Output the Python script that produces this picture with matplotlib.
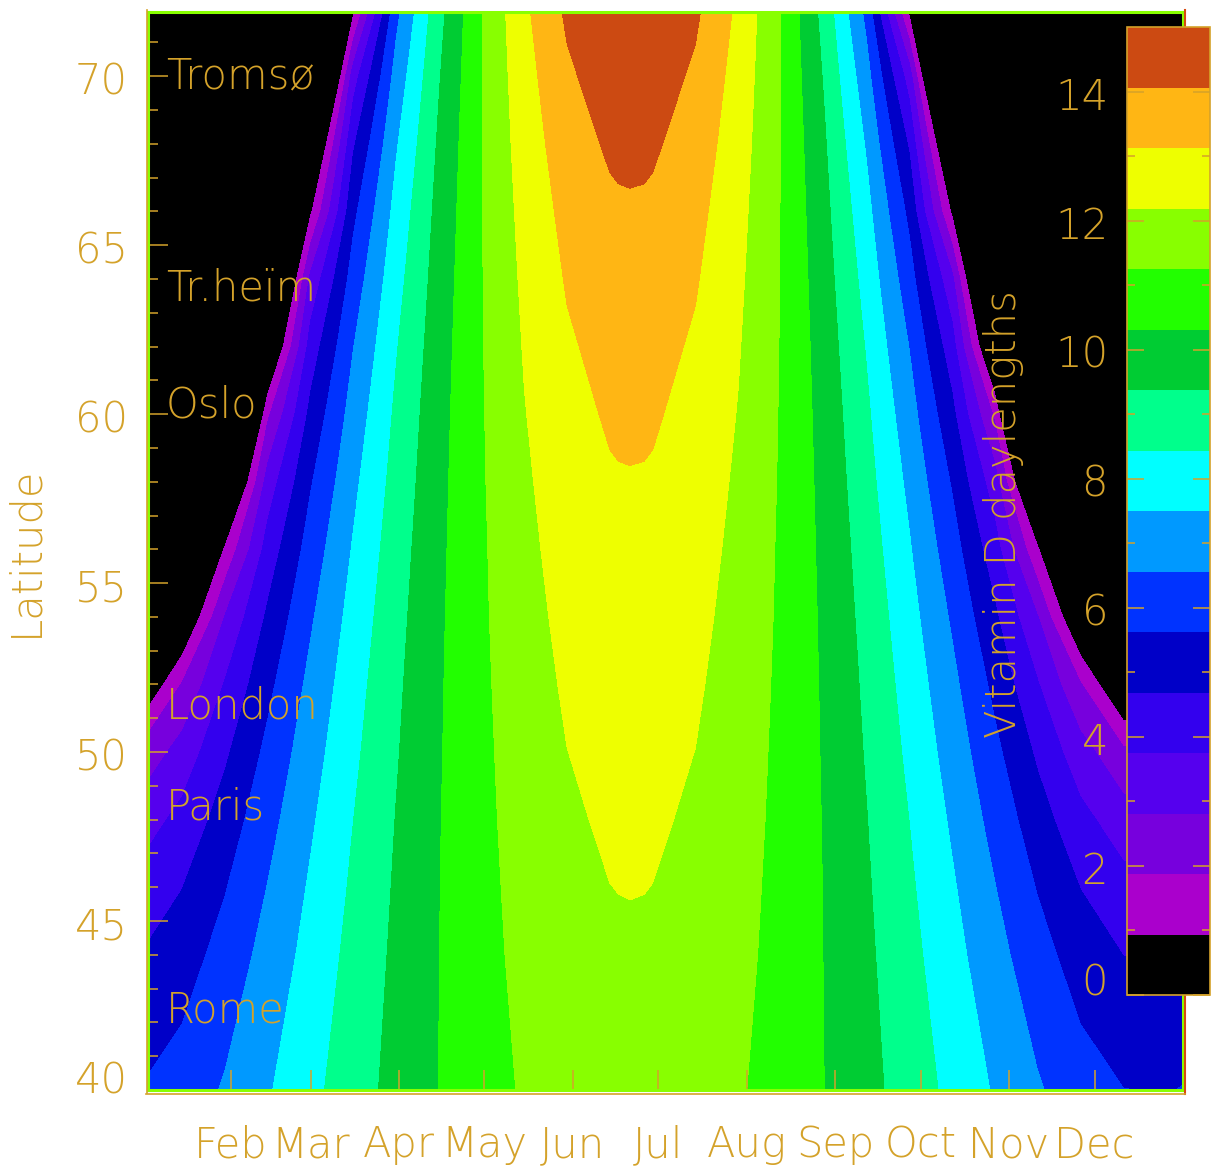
import numpy as np
import matplotlib
matplotlib.use("Agg")
import matplotlib.pyplot as plt
from matplotlib.colors import ListedColormap, BoundaryNorm
from matplotlib.cm import ScalarMappable
from matplotlib.lines import Line2D
from matplotlib.ticker import FixedLocator
from matplotlib.transforms import blended_transform_factory, offset_copy

# ── look ────────────────────────────────────────────────────────────────────
W, H = 1211, 1167
GOLD = "#d4a22a"
FRAME_GREEN = "#88ff00"
FRAME_RED = "#d84a10"
plt.rcParams["font.family"] = ["DejaVu Sans"]
plt.rcParams["font.weight"] = 200
FS = 30

# ── data: vitamin D daylength (hours) by day of year and latitude ─────────────
# cells where the sun never gets high enough carry a negative estimate
# (below the first level, so they show black)
DAYS = [0, 15, 30, 45, 60, 75, 90, 105, 120, 135, 150, 165, 168, 172, 177, 180,
        195, 210, 225, 240, 255, 270, 285, 300, 315, 330, 345, 360, 366]
LATS = [40, 44, 46, 48, 50, 52, 54, 56, 58, 60, 62, 64, 66, 68, 70, 72]

HOURS_40 = [5.64, 6.04, 6.66, 7.41, 8.19, 8.95, 9.67, 10.32, 10.89, 11.34, 11.67, 11.83, 11.85, 11.86,
            11.85, 11.83, 11.67, 11.34, 10.89, 10.32, 9.67, 8.95, 8.19, 7.41, 6.66, 6.04, 5.64, 5.58, 5.66]
HOURS_44 = [4.68, 5.19, 5.98, 6.89, 7.82, 8.72, 9.55, 10.30, 10.96, 11.49, 11.86, 12.06, 12.08, 12.09,
            12.08, 12.06, 11.86, 11.49, 10.96, 10.30, 9.55, 8.72, 7.82, 6.89, 5.98, 5.19, 4.68, 4.60, 4.70]
HOURS_46 = [4.06, 4.67, 5.57, 6.59, 7.61, 8.58, 9.48, 10.29, 10.99, 11.56, 11.97, 12.18, 12.20, 12.21,
            12.20, 12.18, 11.97, 11.56, 10.99, 10.29, 9.48, 8.58, 7.61, 6.59, 5.57, 4.67, 4.06, 3.96, 4.09]
HOURS_48 = [3.26, 4.03, 5.10, 6.24, 7.37, 8.43, 9.40, 10.27, 11.02, 11.64, 12.07, 12.30, 12.32, 12.33,
            12.32, 12.30, 12.07, 11.64, 11.02, 10.27, 9.40, 8.43, 7.37, 6.24, 5.10, 4.03, 3.26, 3.13, 3.30]
HOURS_50 = [2.09, 3.20, 4.53, 5.85, 7.10, 8.25, 9.30, 10.24, 11.05, 11.71, 12.18, 12.43, 12.46, 12.47,
            12.46, 12.43, 12.18, 11.71, 11.05, 10.24, 9.30, 8.25, 7.10, 5.85, 4.53, 3.20, 2.09, 1.88, 2.15]
HOURS_52 = [-0.35, 1.95, 3.82, 5.39, 6.80, 8.06, 9.20, 10.21, 11.08, 11.79, 12.30, 12.57, 12.60, 12.61,
            12.60, 12.57, 12.30, 11.79, 11.08, 10.21, 9.20, 8.06, 6.80, 5.39, 3.82, 1.95, -0.35, -0.45, -0.02]
HOURS_54 = [-1.50, -0.40, 2.85, 4.84, 6.44, 7.84, 9.08, 10.17, 11.11, 11.88, 12.42, 12.71, 12.74, 12.75,
            12.74, 12.71, 12.42, 11.88, 11.11, 10.17, 9.08, 7.84, 6.44, 4.84, 2.85, -0.40, -1.50, -1.60, -1.50]
HOURS_56 = [-4.50, -3.00, 1.06, 4.15, 6.03, 7.58, 8.94, 10.12, 11.13, 11.96, 12.55, 12.87, 12.90, 12.91,
            12.90, 12.87, 12.55, 11.96, 11.13, 10.12, 8.94, 7.58, 6.03, 4.15, 1.06, -3.00, -4.50, -4.70, -4.50]
HOURS_58 = [-6.00, -4.00, -1.70, 3.23, 5.54, 7.29, 8.77, 10.06, 11.16, 12.05, 12.69, 13.04, 13.07, 13.08,
            13.07, 13.04, 12.69, 12.05, 11.16, 10.06, 8.77, 7.29, 5.54, 3.23, -1.70, -4.00, -6.00, -6.20, -6.00]
HOURS_60 = [-10.0, -8.00, -5.90, 1.70, 4.93, 6.95, 8.59, 9.99, 11.18, 12.15, 12.85, 13.22, 13.25, 13.27,
            13.25, 13.22, 12.85, 12.15, 11.18, 9.99, 8.59, 6.95, 4.93, 1.70, -5.90, -8.00, -10.0, -10.3, -10.0]
HOURS_62 = [-9.00, -7.00, -4.00, -0.90, 4.16, 6.54, 8.37, 9.90, 11.20, 12.25, 13.01, 13.42, 13.45, 13.47,
            13.45, 13.42, 13.01, 12.25, 11.20, 9.90, 8.37, 6.54, 4.16, -0.90, -4.00, -7.00, -9.00, -9.30, -9.00]
HOURS_64 = [-10.0, -8.00, -6.00, -3.40, 3.04, 6.03, 8.10, 9.79, 11.21, 12.36, 13.20, 13.64, 13.68, 13.70,
            13.68, 13.64, 13.20, 12.36, 11.21, 9.79, 8.10, 6.03, 3.04, -3.40, -6.00, -8.00, -10.0, -10.3, -10.0]
HOURS_66 = [-11.0, -9.00, -7.00, -3.50, 0.77, 5.40, 7.79, 9.66, 11.22, 12.48, 13.40, 13.89, 13.94, 13.96,
            13.94, 13.89, 13.40, 12.48, 11.22, 9.66, 7.79, 5.40, 0.77, -3.50, -7.00, -9.00, -11.0, -11.3, -11.0]
HOURS_68 = [-12.0, -10.0, -8.00, -5.00, -1.22, 4.56, 7.40, 9.50, 11.23, 12.62, 13.64, 14.19, 14.24, 14.26,
            14.24, 14.19, 13.64, 12.62, 11.23, 9.50, 7.40, 4.56, -1.22, -5.00, -8.00, -10.0, -12.0, -12.3, -12.0]
HOURS_70 = [-14.0, -12.0, -10.0, -8.00, -4.78, 3.31, 6.91, 9.30, 11.23, 12.77, 13.91, 14.53, 14.58, 14.61,
            14.58, 14.53, 13.91, 12.77, 11.23, 9.30, 6.91, 3.31, -4.78, -8.00, -10.0, -12.0, -14.0, -14.3, -14.0]
HOURS_72 = [-15.0, -13.0, -11.0, -9.00, -5.00, 0.65, 6.27, 9.05, 11.22, 12.95, 14.23, 14.94, 15.00, 15.03,
            15.00, 14.94, 14.23, 12.95, 11.22, 9.05, 6.27, 0.65, -5.00, -9.00, -11.0, -13.0, -15.0, -15.3, -15.0]

# 16 filled levels between 0 and 15 hours
BAND_EDGES = [0.0, 0.9375, 1.875, 2.8125, 3.75, 4.6875, 5.625, 6.5625, 7.5,
              8.4375, 9.375, 10.3125, 11.25, 12.1875, 13.125, 14.0625, 15.0]
BAND_COLORS = ["#000000", "#aa00cc", "#7700dd", "#5500ee", "#3300ee", "#0000c8",
               "#0033ff", "#0099ff", "#00ffff", "#00ff8c", "#00cc33", "#22ff00",
               "#88ff00", "#eeff00", "#ffb614", "#cc4a12"]

MONTHS = ["Feb", "Mar", "Apr", "May", "Jun", "Jul", "Aug", "Sep", "Oct", "Nov", "Dec"]
MONTH_START = [32, 60, 91, 121, 152, 182, 213, 244, 274, 305, 335]

CITIES = ["Tromsø", "Tr.heïm", "Oslo", "London", "Paris", "Rome"]
CITY_LAT = [69.65, 63.36, 59.9, 51.0, 48.0, 42.0]

LAT_TICKS = [40, 45, 50, 55, 60, 65, 70]
CBAR_LABELS = [0, 2, 4, 6, 8, 10, 12, 14]


def px(x):
    return x / W


def py(y):
    return 1 - y / H


fig = plt.figure(figsize=(W / 100, H / 100), dpi=100, facecolor="white")
ax = fig.add_axes([px(148), py(1090), px(1183) - px(148), py(12) - py(1090)])

Z = np.array([HOURS_40, HOURS_44, HOURS_46, HOURS_48, HOURS_50, HOURS_52,
              HOURS_54, HOURS_56, HOURS_58, HOURS_60, HOURS_62, HOURS_64,
              HOURS_66, HOURS_68, HOURS_70, HOURS_72])
fill_levels = [-20.0] + BAND_EDGES[1:-1] + [16.0]
ax.contourf(DAYS, LATS, Z, levels=fill_levels, colors=BAND_COLORS)

ax.set_xlim(3, 366)
ax.set_ylim(40, 71.9)

# axis frame
for s in ax.spines.values():
    s.set_color(FRAME_GREEN)
    s.set_linewidth(2.2)
fig.add_artist(Line2D([px(146.5), px(146.5)], [py(1093), py(10)], color=GOLD, lw=1.2))
fig.add_artist(Line2D([px(146), px(1185)], [py(1093.5), py(1093.5)], color=GOLD, lw=1.2))
fig.add_artist(Line2D([px(1185), px(1185)], [py(1094), py(10)], color=FRAME_RED, lw=1.5,
                      zorder=0.5))

# ticks
ax.set_xticks(MONTH_START)
ax.set_yticks(LAT_TICKS)
ax.yaxis.set_minor_locator(FixedLocator(range(40, 72)))
ax.tick_params(which="both", direction="in", colors=GOLD, width=1.1,
               labelbottom=False, labelleft=False, top=False, right=False)
ax.tick_params(which="major", length=14.4)
ax.tick_params(axis="y", which="minor", length=7.2)

# tick labels drawn as text (IDL style placement)
ylab_tr = blended_transform_factory(fig.transFigure, ax.transData)
for lat in LAT_TICKS:
    dy = -3 if lat == 40 else -18
    tr = offset_copy(ylab_tr, fig=fig, y=dy * 0.72, units="points")
    fig.text(px(128), lat, str(lat), transform=tr, ha="right", va="baseline",
             fontsize=FS, color=GOLD)

xlab_tr = blended_transform_factory(ax.transData, fig.transFigure)
for name, day in zip(MONTHS, MONTH_START):
    fig.text(day, py(1157), name, transform=xlab_tr, ha="center", va="baseline",
             fontsize=FS, color=GOLD)

for name, lat in zip(CITIES, CITY_LAT):
    fig.text(px(166), lat, name, transform=ylab_tr, ha="left", va="baseline",
             fontsize=FS, color=GOLD)

fig.text(px(25), py(551), "Latitude", rotation=90, ha="center", va="center",
         fontsize=FS, color=GOLD)

# colour bar
cax = fig.add_axes([px(1127), py(995), px(1210) - px(1127), py(27) - py(995)])
cax.set_zorder(1)
sm = ScalarMappable(norm=BoundaryNorm(BAND_EDGES, len(BAND_COLORS)),
                    cmap=ListedColormap(BAND_COLORS))
cbar = fig.colorbar(sm, cax=cax)
cbar.outline.set_edgecolor(GOLD)
cbar.outline.set_linewidth(1.2)
cbar.set_ticks(CBAR_LABELS)
cax.yaxis.set_minor_locator(FixedLocator([1, 3, 5, 7, 9, 11, 13]))
cax.tick_params(which="both", direction="in", left=True, right=True,
                labelleft=False, labelright=False, colors=GOLD, width=1.1)
cax.tick_params(which="major", length=12.5)
cax.tick_params(which="minor", length=6)

cbar_tr = blended_transform_factory(fig.transFigure, cax.transData)
for v in CBAR_LABELS:
    dy = -1 if v == 0 else -18
    tr = offset_copy(cbar_tr, fig=fig, y=dy * 0.72, units="points")
    fig.text(px(1108), v, str(v), transform=tr, ha="right", va="baseline",
             fontsize=FS, color=GOLD, zorder=3)

fig.text(px(1004), py(514), "Vitamin D daylengths", rotation=90, ha="center",
         va="center", fontsize=FS, color=GOLD)

fig.savefig("out.png", dpi=100, facecolor="white")
